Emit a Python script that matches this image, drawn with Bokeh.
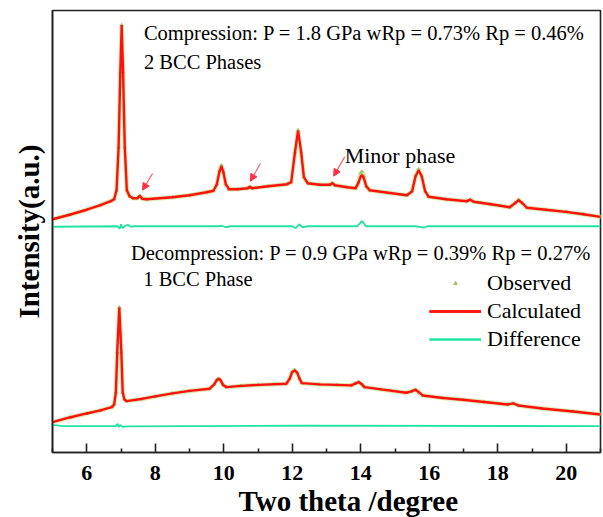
from bokeh.plotting import figure
from bokeh.models import (Range1d, FixedTicker, Legend, LegendItem, Label, Arrow,
                          NormalHead, Title)
from bokeh.embed import file_html
from bokeh.resources import INLINE

# ---------------- data (two theta in degrees, intensity in arbitrary units) -------------
comp_x = [5.00, 5.5, 6.0, 6.4, 6.7, 6.80, 6.87, 6.93, 6.98, 7.02, 7.06, 7.11, 7.17, 7.25,
          7.35, 7.48, 7.55, 7.62, 7.75, 8.5, 9.0, 9.5, 9.70, 9.80, 9.87, 9.93, 9.99, 10.06,
          10.15, 10.4, 10.70, 10.76, 10.82, 11.3, 11.85, 11.97, 12.08, 12.17, 12.26, 12.34,
          12.45, 12.8, 13.1, 13.17, 13.24, 13.6, 13.85, 13.93, 14.0, 14.04, 14.09, 14.16,
          14.26, 14.8, 15.35, 15.50, 15.60, 15.69, 15.78, 15.88, 15.98, 16.5, 17.1, 17.2,
          17.3, 17.8, 18.35, 18.50, 18.61, 18.72, 18.85, 19.4, 20.0, 20.5, 21.0]
comp_calc = [233, 237.5, 242.5, 247, 251, 253, 262, 305, 380, 427, 380, 305, 262, 256,
             254, 254, 256.5, 253.5, 253, 255, 257, 260, 261.5, 268, 280, 286, 280, 268,
             263, 263, 264, 265.5, 264, 266, 268, 270, 300, 321.5, 300, 275,
             269, 267.5, 267.5, 269, 267, 265, 264, 269, 276, 277, 274, 266,
             262, 259.5, 257, 261, 276, 282, 276, 261, 255.5, 253, 251, 252.5,
             250.5, 248, 245, 249, 252, 249, 244.5, 242.5, 240.3, 238, 235.3]
comp_obs = [233, 237.5, 242.5, 247, 251, 253, 262, 305, 380, 427, 380, 305, 262, 256,
            254, 254, 256.5, 253.5, 253, 255, 257, 260, 261.5, 268, 281, 287, 280, 268,
            263, 263, 264, 265.5, 264, 266, 268, 270, 300, 322, 300, 275,
            269, 267.5, 267.5, 269, 267, 265, 264, 270, 279, 280.5, 276, 266,
            262, 259.5, 257, 261, 276, 283, 276, 261, 255.5, 253, 251, 252.5,
            250.5, 248, 245, 249, 252.5, 249, 244.5, 242.5, 240.3, 238, 235.3]
comp_diff_x = [5.0, 6.9, 6.96, 7.0, 7.04, 7.1, 7.2, 7.28, 7.4, 9.85, 9.95, 10.05, 10.2,
               12.0, 12.1, 12.2, 12.3, 12.45, 13.9, 14.04, 14.15, 15.6, 15.84, 15.95, 21.0]
comp_diff = [225.5, 226, 223.5, 228, 224, 226, 227.5, 225.5, 226, 226, 226.5, 225, 226,
             226, 224, 228, 225, 226, 226, 231.3, 226, 226, 224.7, 226, 226]

decomp_x = [5.0, 5.5, 6.0, 6.4, 6.73, 6.80, 6.85, 6.89, 6.95, 7.01, 7.05, 7.10, 7.16, 7.6,
            8.0, 8.5, 9.0, 9.59, 9.72, 9.80, 9.85, 9.90, 9.98, 10.08, 10.5, 11.0, 11.83,
            11.93, 12.0, 12.07, 12.14, 12.21, 12.28, 12.8, 13.3, 13.72, 13.85, 13.94, 14.02,
            14.11, 14.6, 15.33, 15.48, 15.6, 15.7, 15.81, 16.4, 16.98, 17.6, 18.3, 18.45,
            18.6, 19.3, 20.2, 21.0]
decomp_calc = [30.3, 35, 39, 42, 45.3, 48, 60, 100, 144.7, 100, 60, 53, 51.3, 53.5,
               56, 59, 61.5, 63.7, 68, 72.5, 73.7, 72.5, 67.5, 65.3, 66.5, 67.5, 68.7,
               74, 80.5, 82, 80, 74, 69.3, 68, 67.5, 67, 69, 70.3, 68.5,
               65.3, 63, 59.7, 61, 62.7, 60, 57, 54.5, 52.7, 50.5, 48, 49,
               47, 44, 41, 38]
decomp_obs = [30.3, 35, 39, 42, 45.3, 48, 60, 100, 145, 100, 60, 53, 51.3, 53.5,
              56, 59, 61.5, 63.7, 68, 72.5, 73.7, 72.5, 67.5, 65.3, 66.5, 67.5, 68.7,
              74, 80.5, 82.5, 80, 74, 69.3, 68, 67.5, 67, 69, 70.3, 68.5,
              65.3, 63, 59.7, 61, 62.7, 60, 57, 54.5, 52.7, 50.5, 48, 49,
              47, 44, 41, 38]
decomp_diff_x = [5.0, 5.3, 6.85, 6.9, 6.94, 6.98, 7.05, 7.2, 12.07, 21.0]
decomp_diff = [27.5, 26.3, 26.3, 28.7, 25.5, 27.5, 25.5, 26, 26.8, 26.3]

x_ticks = [6, 8, 10, 12, 14, 16, 18, 20]
x_minor_ticks = [5, 7, 9, 11, 13, 15, 17, 19, 21]

arrow_x_start = [7.92, 11.07, 13.53]
arrow_y_start = [278.7, 288.7, 295.3]
arrow_x_end = [7.63, 10.78, 13.21]
arrow_y_end = [262, 271, 276]

texts = ["Compression: P = 1.8 GPa wRp = 0.73% Rp = 0.46%", "2 BCC Phases",
         "Decompression: P = 0.9 GPa wRp = 0.39% Rp = 0.27%", "1 BCC Phase"]
text_x = [7.67, 7.67, 7.29, 7.65]
text_y = [418.7, 389.7, 199.3, 173.7]

# ---------------- styles ----------------
SERIF = "Liberation Serif"
RED = "#ff1010"
GREEN = "#22e3a2"
OBS = "#a9bf6a"

p = figure(width=603, height=517, output_backend="svg", toolbar_location=None,
           x_range=Range1d(5, 21), y_range=Range1d(0, 441.5),
           min_border_left=52, min_border_right=3, min_border_top=10, min_border_bottom=65)
p.background_fill_color = "white"
p.border_fill_color = "white"
p.xgrid.visible = False
p.ygrid.visible = False
p.outline_line_color = "#222222"
p.outline_line_width = 1.6

xa = p.xaxis[0]
xa.ticker = FixedTicker(ticks=x_ticks, minor_ticks=x_minor_ticks)
xa.major_tick_in = 9
xa.major_tick_out = 0
xa.minor_tick_in = 4
xa.minor_tick_out = 0
xa.major_tick_line_width = 1.6
xa.minor_tick_line_width = 1.6
xa.axis_line_width = 1.6
xa.axis_line_color = "#222222"
xa.major_tick_line_color = "#222222"
xa.minor_tick_line_color = "#222222"
xa.major_label_text_font = SERIF
xa.major_label_text_font_style = "bold"
xa.major_label_text_font_size = "22px"
xa.major_label_text_color = "black"
xa.major_label_standoff = 13

ya = p.yaxis[0]
ya.ticker = FixedTicker(ticks=[])
ya.axis_line_width = 1.6
ya.axis_line_color = "#222222"
ya.major_tick_line_color = None
ya.minor_tick_line_color = None
ya.axis_label = "Intensity(a.u.)"
ya.axis_label_text_font = SERIF
ya.axis_label_text_font_style = "bold"
ya.axis_label_text_font_size = "29px"
ya.axis_label_text_color = "black"
ya.axis_label_standoff = 8

xt = Title(text="Two theta /degree", align="left", offset=186, standoff=1,
           text_font=SERIF, text_font_style="bold", text_font_size="29px",
           text_color="black", text_line_height=0.7)
p.add_layout(xt, "below")

# observed (halo line + markers), calculated, difference
obs_r = []
calc_r = []
diff_r = []
for xs, obs, calc, dx, dy in [(comp_x, comp_obs, comp_calc, comp_diff_x, comp_diff),
                              (decomp_x, decomp_obs, decomp_calc, decomp_diff_x, decomp_diff)]:
    p.line(xs, obs, line_color="#d6e8a6", line_width=4.5, line_alpha=0.9)
    obs_r.append(p.scatter(xs, obs, marker="triangle", size=3, fill_color=OBS,
                           line_color=OBS))
    calc_r.append(p.line(xs, calc, line_color=RED, line_width=2.4))
    diff_r.append(p.line(dx, dy, line_color=GREEN, line_width=1.8))

# arrows
for xs0, ys0, xe, ye in zip(arrow_x_start, arrow_y_start, arrow_x_end, arrow_y_end):
    p.add_layout(Arrow(end=NormalHead(size=7, fill_color="#ff3048", line_color="#ff3048"),
                       x_start=xs0, y_start=ys0, x_end=xe, y_end=ye,
                       line_color="#ff5a6a", line_width=1.2))

for t, tx, ty in zip(texts, text_x, text_y):
    p.add_layout(Label(x=tx, y=ty, text=t, text_font=SERIF, text_font_size="20.5px",
                       text_color="black", text_baseline="alphabetic"))
p.add_layout(Label(x=13.53, y=297, text="Minor phase", text_font=SERIF,
                   text_font_size="22px", text_color="black", text_baseline="alphabetic"))

legend = Legend(items=[LegendItem(label="Observed", renderers=obs_r),
                       LegendItem(label="Calculated", renderers=calc_r),
                       LegendItem(label="Difference", renderers=diff_r)],
                location=(377, 99), orientation="vertical",
                glyph_width=52, glyph_height=8, label_height=28, label_standoff=6,
                spacing=0, padding=0, margin=0, border_line_color=None,
                background_fill_alpha=0, label_text_font=SERIF,
                label_text_font_size="22px", label_text_color="black")
p.add_layout(legend)

open("out.html", "w").write(file_html(p, INLINE))
